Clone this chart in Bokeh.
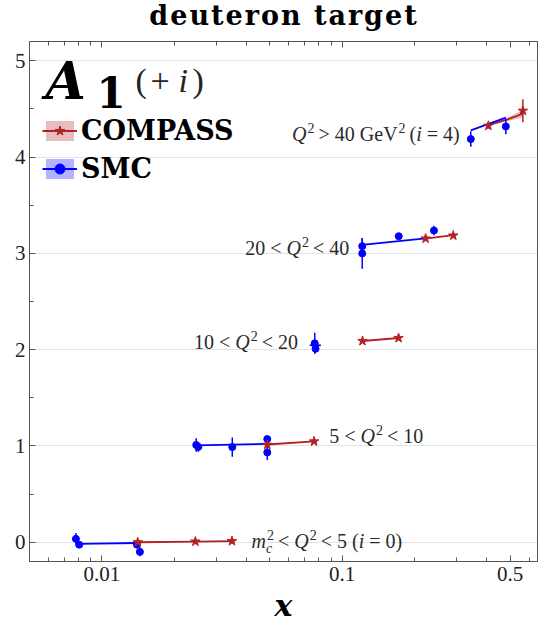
import numpy as np
from bokeh.plotting import figure
from bokeh.layouts import column
from bokeh.models import (ColumnDataSource, FixedTicker, LogAxis, Range1d, Label, Div,
                          Legend, LegendItem, CustomJSTickFormatter)
from bokeh.core.properties import value
from bokeh.embed import file_html
from bokeh.resources import INLINE

# ---------------- data (A1 values; the plot shows A1 + i, i = Q^2 bin index) ----------------
smc_x = [0.0078, 0.00805, 0.0140, 0.0144,
         0.0247, 0.0252, 0.0349, 0.0488, 0.0488,
         0.0769, 0.0775,
         0.1212, 0.1212, 0.172, 0.241,
         0.343, 0.480]
smc_a1 = [0.035, -0.025, -0.025, -0.100,
          0.010, -0.010, -0.012, 0.071, -0.067,
          0.066, 0.010,
          0.075, -0.001, 0.178, 0.237,
          0.187, 0.318]
smc_err = [0.06, 0.03, 0.03, 0.045,
           0.07, 0.05, 0.10, 0.03, 0.08,
           0.11, 0.04,
           0.08, 0.16, 0.03, 0.05,
           0.08, 0.08]
smc_bin = [0, 0, 0, 0, 1, 1, 1, 1, 1, 2, 2, 3, 3, 3, 3, 4, 4]

compass_x = [0.0141, 0.0245, 0.0348, 0.0488, 0.0764, 0.1215, 0.1717, 0.2225, 0.290, 0.406, 0.565]
compass_a1 = [0.000, 0.007, 0.012, 0.012, 0.047, 0.090, 0.121, 0.154, 0.185, 0.325, 0.481]
compass_err = [0.01, 0.01, 0.01, 0.015, 0.015, 0.02, 0.02, 0.02, 0.02, 0.03, 0.12]
compass_bin = [0, 0, 0, 1, 1, 2, 2, 3, 3, 4, 4]

# fitted curves per bin
smc_fit_x = [[0.0079, 0.0141], [0.0247, 0.0488], [0.0733, 0.0815], [0.121, 0.2225], [0.343, 0.480]]
smc_fit_a1 = [[-0.018, -0.008], [0.005, 0.022], [0.045, 0.045], [0.088, 0.155], [0.277, 0.410]]
compass_fit_x = [[0.0141, 0.0245, 0.0348], [0.0488, 0.0764], [0.1215, 0.1717], [0.2225, 0.290], [0.40, 0.48, 0.565]]
compass_fit_a1 = [[0.000, 0.007, 0.012], [0.015, 0.047], [0.090, 0.121], [0.154, 0.190], [0.325, 0.385, 0.450]]
# uncertainty bands of the highest-Q^2 curves (bin 4)
compass_band_x = [0.40, 0.48, 0.565]
compass_band_lo = [0.318, 0.370, 0.410]
compass_band_hi = [0.332, 0.400, 0.490]
smc_band_x = [0.343, 0.480]
smc_band_lo = [0.272, 0.403]
smc_band_hi = [0.282, 0.417]

x_major = [0.01, 0.1, 0.5]
x_minor = [0.006, 0.007, 0.008, 0.009, 0.02, 0.03, 0.04, 0.05, 0.06, 0.07, 0.08, 0.09,
           0.2, 0.3, 0.4, 0.6]
y_major = [0, 1, 2, 3, 4, 5]
y_minor = [0.5, 1.5, 2.5, 3.5, 4.5]

RED = "#b22222"
BLUE = "#0000ff"
SERIF = "Liberation Serif"
BOLD = "DejaVu Serif"

# ---------------- title (HTML block above the plot) ----------------
TITLE_H = 34
title = Div(text="deuteron target", width=538, height=TITLE_H, margin=0,
            styles={"font-family": "'DejaVu Serif', serif", "font-weight": "bold",
                    "font-size": "27px", "line-height": "31px", "letter-spacing": "2px",
                    "text-align": "center", "padding-left": "30px",
                    "box-sizing": "border-box", "color": "black",
                    "white-space": "nowrap", "overflow": "visible"})

# ---------------- figure ----------------
p = figure(width=538, height=625 - TITLE_H, x_axis_type="log", title=None,
           x_range=Range1d(0.005, 0.65), y_range=Range1d(-0.2, 5.2),
           output_backend="svg", toolbar_location=None,
           min_border_left=29, min_border_right=1, min_border_top=41 - TITLE_H,
           min_border_bottom=63)
p.background_fill_color = "white"
p.border_fill_color = "white"
p.outline_line_color = "#555555"
p.outline_line_width = 1

xt = FixedTicker(ticks=x_major, minor_ticks=x_minor)
yt = FixedTicker(ticks=y_major, minor_ticks=y_minor)

for ax in p.xaxis:
    ax.ticker = xt
    ax.formatter = CustomJSTickFormatter(code="return tick.toString()")
    ax.major_label_text_font = SERIF
    ax.major_label_text_font_size = "21px"
    ax.major_label_text_color = "#222222"
    ax.major_label_standoff = 5
    ax.axis_label = "x"
    ax.axis_label_text_font = BOLD
    ax.axis_label_text_font_style = "bold italic"
    ax.axis_label_text_font_size = "30px"
    ax.axis_label_text_color = "black"
    ax.axis_label_standoff = 4
for ax in p.yaxis:
    ax.ticker = yt
    ax.major_label_text_font = SERIF
    ax.major_label_text_font_size = "21px"
    ax.major_label_text_color = "#222222"
    ax.major_label_standoff = 4
for ax in list(p.xaxis) + list(p.yaxis):
    ax.axis_line_color = "#555555"
    ax.major_tick_line_color = "#555555"
    ax.minor_tick_line_color = "#555555"
    ax.major_tick_in = 6
    ax.major_tick_out = 0
    ax.minor_tick_in = 4
    ax.minor_tick_out = 0

top = LogAxis(ticker=xt, formatter=CustomJSTickFormatter(code="return ''"),
              major_label_text_font_size="0px", major_label_standoff=0,
              axis_line_color="#555555", major_tick_line_color="#555555",
              minor_tick_line_color="#555555", major_tick_in=6, major_tick_out=0,
              minor_tick_in=4, minor_tick_out=0)
p.add_layout(top, "above")

p.xgrid.visible = False
p.ygrid.ticker = yt
p.ygrid.grid_line_color = "#e3e3e3"
p.ygrid.grid_line_width = 1

# ---------------- glyphs ----------------
red_band = p.varea(x="x", y1="y1", y2="y2",
                   source=ColumnDataSource(dict(x=compass_band_x,
                                                y1=[v + 4 for v in compass_band_lo],
                                                y2=[v + 4 for v in compass_band_hi])),
                   fill_color=RED, fill_alpha=0.3)
blue_band = p.varea(x="x", y1="y1", y2="y2",
                    source=ColumnDataSource(dict(x=smc_band_x,
                                                 y1=[v + 4 for v in smc_band_lo],
                                                 y2=[v + 4 for v in smc_band_hi])),
                    fill_color=BLUE, fill_alpha=0.3)

red_lines = p.multi_line(xs=compass_fit_x,
                         ys=[[v + i for v in row] for i, row in enumerate(compass_fit_a1)],
                         line_color=RED, line_width=1.8)
blue_lines = p.multi_line(xs=smc_fit_x,
                          ys=[[v + i for v in row] for i, row in enumerate(smc_fit_a1)],
                          line_color=BLUE, line_width=1.8)

smc_y = [a + b for a, b in zip(smc_a1, smc_bin)]
smc_src = ColumnDataSource(dict(x=smc_x, y=smc_y,
                                lo=[y - e for y, e in zip(smc_y, smc_err)],
                                hi=[y + e for y, e in zip(smc_y, smc_err)]))
p.segment(x0="x", y0="lo", x1="x", y1="hi", source=smc_src, line_color=BLUE, line_width=1.5)
smc_pts = p.scatter(x="x", y="y", source=smc_src, marker="circle", size=7,
                    fill_color=BLUE, line_color=BLUE)

c_y = [a + b for a, b in zip(compass_a1, compass_bin)]
c_src = ColumnDataSource(dict(x=compass_x, y=c_y,
                              lo=[y - e for y, e in zip(c_y, compass_err)],
                              hi=[y + e for y, e in zip(c_y, compass_err)]))
p.segment(x0="x", y0="lo", x1="x", y1="hi", source=c_src, line_color=RED, line_width=1.5)
c_pts = p.scatter(x="x", y="y", source=c_src, marker="star", size=10,
                  fill_color=RED, line_color=RED)

# ---------------- bin labels ----------------
UP = {**{d: 0.5 for d in "0123456789"}, " ": 0.25, "<": 0.564, ">": 0.564, "=": 0.564,
      "(": 0.333, ")": 0.333, "G": 0.722, "e": 0.444, "V": 0.722}
IT = {"Q": 0.722, "i": 0.278, "m": 0.722, "c": 0.444}


def wid(s, it):
    t = IT if it else UP
    return sum(t.get(ch, 0.5) for ch in s)


label_specs = [
    (0.042, 0.0, [("m", 1, ""), ("c", 1, "sub"), ("2", 0, "sup"), (" < ", 0, ""), ("Q", 1, ""),
                  ("2", 0, "sup"), (" < 5 (", 0, ""), ("i", 1, ""), (" = 0)", 0, "")]),
    (0.0883, 1.088, [("5 < ", 0, ""), ("Q", 1, ""), ("2", 0, "sup"), (" < 10", 0, "")]),
    (0.0242, 2.066, [("10 < ", 0, ""), ("Q", 1, ""), ("2", 0, "sup"), (" < 20", 0, "")]),
    (0.0395, 3.040, [("20 < ", 0, ""), ("Q", 1, ""), ("2", 0, "sup"), (" < 40", 0, "")]),
    (0.0619, 4.225, [("Q", 1, ""), ("2", 0, "sup"), (" > 40 GeV", 0, ""), ("2", 0, "sup"),
                     (" (", 0, ""), ("i", 1, ""), (" = 4)", 0, "")]),
]
FS = 20
SS = 14
groups = {}
for x0, yc, pieces in label_specs:
    cx = 0.0
    for txt, it, kind in pieces:
        size = SS if kind else FS
        core = txt.strip(" ")
        lead = len(txt) - len(txt.lstrip(" "))
        trail = len(txt) - len(txt.rstrip(" "))
        cx += lead * 0.25 * FS
        rise = 0.42 * FS if kind == "sup" else (-0.24 * FS if kind == "sub" else 0.0)
        key = ("italic" if it else "normal", size)
        g = groups.setdefault(key, dict(x=[], y=[], text=[], dx=[], dy=[]))
        g["x"].append(x0)
        g["y"].append(yc)
        g["text"].append(core)
        g["dx"].append(cx + (1.0 if kind == "sup" and it == 0 else 0.0))
        # baseline compensation for the renderer's alphabetic placement
        g["dy"].append(0.33 * FS - 0.4 * size - rise)
        if kind != "sub":
            cx += wid(core, it) * size
        cx += trail * 0.25 * FS

for (style, size), g in groups.items():
    p.text(x="x", y="y", text="text", x_offset="dx", y_offset="dy",
           source=ColumnDataSource(g), text_font=value(SERIF), text_font_style=style,
           text_font_size=f"{size}px", text_color="#2a2a2a",
           text_baseline="alphabetic", text_align="left")

# ---------------- A1 (+i) heading, frame-relative screen units ----------------
FL, FB = 29, 562
p.add_layout(Label(x=45 - FL, y=FB - 81, x_units="screen", y_units="screen", text="A",
                   text_font=BOLD, text_font_style="bold italic", text_font_size="52px",
                   text_color="black", text_baseline="alphabetic"))
p.add_layout(Label(x=96 - FL, y=FB - 93, x_units="screen", y_units="screen", text="1",
                   text_font=BOLD, text_font_style="bold", text_font_size="42px",
                   text_color="black", text_baseline="alphabetic"))
for t, xx, st in [("(", 135, "normal"), ("+", 150, "normal"), ("i", 178, "italic"), (")", 192, "normal")]:
    p.add_layout(Label(x=xx - FL, y=FB - 81, x_units="screen", y_units="screen", text=t,
                       text_font=SERIF, text_font_style=st, text_font_size="34px",
                       text_color="#222222", text_baseline="alphabetic"))

# ---------------- legend ----------------
legend = Legend(items=[LegendItem(label="COMPASS", renderers=[red_band, red_lines, c_pts]),
                       LegendItem(label="SMC", renderers=[blue_band, blue_lines, smc_pts])],
                location=(13, 377), orientation="vertical",
                glyph_width=35, glyph_height=25, label_standoff=4, spacing=7, padding=0,
                margin=0, background_fill_alpha=0, border_line_alpha=0,
                label_text_font=BOLD, label_text_font_style="bold",
                label_text_font_size="27px", label_text_color="black")
p.add_layout(legend, "center")

layout = column(title, p, spacing=0, margin=0)
open("out.html", "w").write(file_html(layout, INLINE))
